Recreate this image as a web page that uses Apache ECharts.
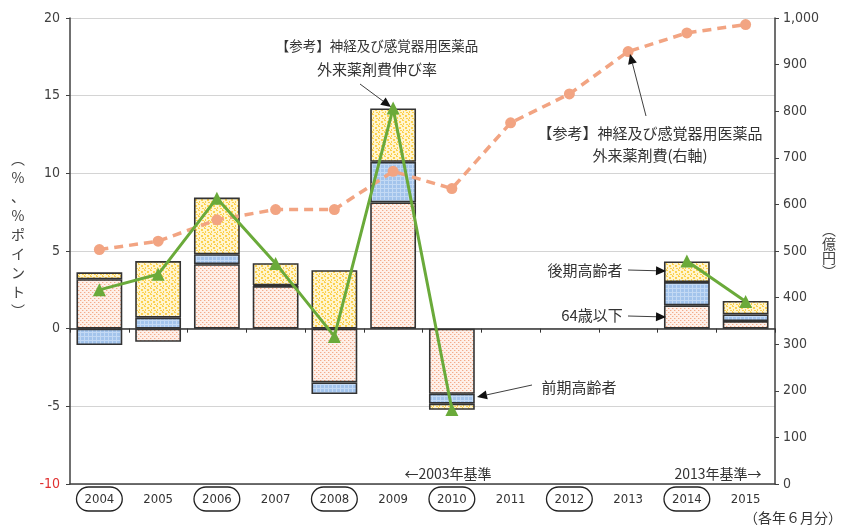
<!DOCTYPE html>
<html><head><meta charset="utf-8">
<script src="https://cdn.jsdelivr.net/npm/echarts@6/dist/echarts.min.js"></script>
<style>html,body{margin:0;padding:0;background:#fff}#c{width:846px;height:526px}</style>
</head><body><div id="c"></div>
<script>
const years = ['2004','2005','2006','2007','2008','2009','2010','2011','2012','2013','2014','2015'];
const under64 = [3.18, -0.85, 4.15, 2.74, -3.46, 8.13, -4.19, null, null, null, 1.50, 0.49];
const earlyElderly = [-1.05, 0.71, 0.64, 0.05, -0.75, 2.61, -0.64, null, null, null, 1.50, 0.43];
const lateElderly = [0.45, 3.64, 3.65, 1.42, 3.76, 3.44, -0.39, null, null, null, 1.33, 0.86];
const growthRate = [2.5, 3.5, 8.4, 4.2, -0.5, 14.2, -5.2, null, null, null, 4.35, 1.75];
const drugCost = [503, 521, 567, 589, 589, 671, 634, 775, 837, 928, 968, 986];
const leftTicks = {min: -10, max: 20, interval: 5};
const rightTicks = {min: 0, max: 1000, interval: 100};

function pattern(kind) {
  const c = document.createElement('canvas');
  const ctx = c.getContext('2d');
  if (kind === 'pink') {
    c.width = 4; c.height = 4;
    ctx.fillStyle = '#fef0e9'; ctx.fillRect(0,0,4,4);
    ctx.fillStyle = '#f4ab8a';
    ctx.fillRect(0,0,1,1); ctx.fillRect(2,2,1,1);
    ctx.fillStyle = '#fad5c4';
    ctx.fillRect(1,0,1,1); ctx.fillRect(3,2,1,1);
  } else if (kind === 'yellow') {
    c.width = 6; c.height = 6;
    ctx.fillStyle = '#fff5cf'; ctx.fillRect(0,0,6,6);
    ctx.fillStyle = '#fcd04f';
    ctx.fillRect(0,0,2,1); ctx.fillRect(3,1,2,2); ctx.fillRect(1,3,1,2); ctx.fillRect(4,4,2,1); ctx.fillRect(0,5,1,1);
  } else {
    c.width = 4; c.height = 4;
    ctx.fillStyle = '#a3c4ec'; ctx.fillRect(0,0,4,4);
    ctx.fillStyle = '#c3d9f4';
    ctx.fillRect(0,0,4,1); ctx.fillRect(0,0,1,4);
  }
  return {image: c, repeat: 'repeat'};
}

const chart = echarts.init(document.getElementById('c'), null, {renderer: 'canvas'});
const narrow = "'Liberation Sans Narrow','DejaVu Sans Condensed','Liberation Sans',sans-serif";
const jp = "'Noto Sans CJK JP','Noto Sans',sans-serif";
const barBorder = {borderColor: '#333', borderWidth: 1.6};

function arrow(x1, y1, x2, y2, color) {
  const a = Math.atan2(y2 - y1, x2 - x1), L = 10, W = 4.5;
  const bx = x2 - L * Math.cos(a), by = y2 - L * Math.sin(a);
  const px = -Math.sin(a) * W, py = Math.cos(a) * W;
  return [
    {type: 'line', shape: {x1, y1, x2: bx, y2: by}, style: {stroke: color || '#404040', lineWidth: 1}, z: 100},
    {type: 'polygon', shape: {points: [[x2, y2], [bx + px, by + py], [bx - px, by - py]]}, style: {fill: '#111'}, z: 100}
  ];
}
function txt(x, y, text, opts) {
  return Object.assign({type: 'text', x, y, z: 100, style: Object.assign({text, fill: '#333', font: '15px ' + jp, textAlign: 'center', textVerticalAlign: 'middle'}, (opts || {}))});
}

const graphics = [].concat(
  [txt(377, 46, '【参考】神経及び感覚器用医薬品', {font: '13.5px ' + jp}), txt(377, 69, '外来薬剤費伸び率')],
  arrow(360, 84, 391, 107),
  [txt(650, 133, '【参考】神経及び感覚器用医薬品'), txt(650, 155, '外来薬剤費(右軸)')],
  arrow(646, 116, 630, 54),
  [txt(585, 270, '後期高齢者'), txt(592, 315, '64歳以下'), txt(579, 387, '前期高齢者')],
  arrow(628, 270, 666, 271),
  arrow(628, 316, 666, 317),
  arrow(532, 385, 477, 397),
  [txt(448, 474, '←2003年基準', {font: '14px ' + jp}), txt(718, 474, '2013年基準→', {font: '14px ' + jp}),
   txt(793, 518, '（各年６月分）', {font: '14px ' + jp}),
   {type: 'text', x: 18, y: 235, z: 100, style: {text: '︵\n%\n、\n%\nポ\nイ\nン\nト\n︶', fill: '#404040', font: '14px ' + jp, lineHeight: 19, textAlign: 'center', textVerticalAlign: 'middle'}},
   {type: 'text', x: 829, y: 251, z: 100, style: {text: '︵\n億\n円\n︶', fill: '#404040', font: '14px ' + jp, lineHeight: 14, textAlign: 'center', textVerticalAlign: 'middle'}}]
);

chart.setOption({
  animation: false,
  backgroundColor: '#fff',
  grid: {left: 70, right: 71, top: 18, bottom: 42},
  xAxis: [
    {type: 'category', data: years, position: 'bottom',
     axisLine: {onZero: false, lineStyle: {color: '#404040', width: 1.5}},
     axisTick: {show: false},
     axisLabel: {margin: 3, interval: 0, color: '#333', fontFamily: narrow, fontSize: 13,
       formatter: (v, i) => (i % 2 === 0 ? '{c|' + v + '}' : '{p|' + v + '}'),
       rich: {
         c: {borderColor: '#222', borderWidth: 1.3, borderRadius: 12, padding: [6, 8, 5, 8], fontFamily: narrow, fontSize: 13, color: '#333'},
         p: {padding: [6, 8, 5, 8], fontFamily: narrow, fontSize: 13, color: '#333'}
       }}},
    {type: 'category', data: years, position: 'top',
     axisLine: {onZero: true, onZeroAxisIndex: 0, lineStyle: {color: '#333', width: 1.5}},
     axisTick: {show: true, inside: true, length: 4, lineStyle: {color: '#333'}},
     axisLabel: {show: false}}
  ],
  yAxis: [
    {type: 'value', min: leftTicks.min, max: leftTicks.max, interval: leftTicks.interval,
     axisLine: {show: true, lineStyle: {color: '#404040', width: 1.5}},
     axisTick: {show: true, length: 4, lineStyle: {color: '#404040'}},
     splitLine: {lineStyle: {color: '#d4d4d4', width: 1.2}},
     axisLabel: {margin: 10, fontSize: 14, fontFamily: narrow, color: v => (v <= -10 ? '#e03030' : '#404040')}},
    {type: 'value', min: rightTicks.min, max: rightTicks.max, interval: rightTicks.interval,
     axisLine: {show: true, lineStyle: {color: '#404040', width: 1.5}},
     axisTick: {show: true, length: 4, lineStyle: {color: '#404040'}},
     splitLine: {show: false},
     axisLabel: {margin: 8, fontSize: 14, fontFamily: narrow, color: '#404040',
       formatter: v => v.toLocaleString('en-US')}}
  ],
  series: [
    {name: '64歳以下', type: 'bar', stack: 'a', barWidth: '78%', data: under64,
     itemStyle: Object.assign({color: pattern('pink')}, barBorder)},
    {name: '前期高齢者', type: 'bar', stack: 'a', data: earlyElderly,
     itemStyle: Object.assign({color: pattern('blue')}, barBorder)},
    {name: '後期高齢者', type: 'bar', stack: 'a', data: lateElderly,
     itemStyle: Object.assign({color: pattern('yellow')}, barBorder)},
    {name: '外来薬剤費', type: 'line', yAxisIndex: 1, data: drugCost, z: 5,
     symbol: 'circle', symbolSize: 11,
     lineStyle: {color: '#f2a482', width: 3.5, type: [9, 6]},
     itemStyle: {color: '#f2a482'}},
    {name: '伸び率', type: 'line', yAxisIndex: 0, data: growthRate, z: 6, connectNulls: false,
     symbol: 'triangle', symbolSize: 13,
     lineStyle: {color: '#6aaa3a', width: 3},
     itemStyle: {color: '#6aaa3a'}}
  ],
  graphic: graphics
});
</script></body></html>
